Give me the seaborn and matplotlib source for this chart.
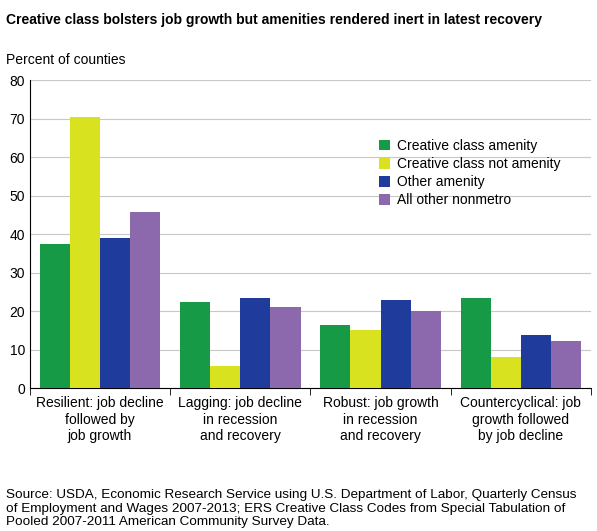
import numpy as np
import pandas as pd
import seaborn as sns
import matplotlib.pyplot as plt

categories = ['Resilient: job decline\nfollowed by\njob growth',
              'Lagging: job decline\nin recession\nand recovery',
              'Robust: job growth\nin recession\nand recovery',
              'Countercyclical: job\ngrowth followed\nby job decline']
series = ['Creative class amenity', 'Creative class not amenity', 'Other amenity', 'All other nonmetro']
creative_amenity = [37.5, 22.3, 16.4, 23.5]
creative_not_amenity = [70.5, 5.8, 15.2, 8.2]
other_amenity = [39.0, 23.5, 22.8, 13.7]
all_other = [45.7, 21.2, 20.0, 12.3]
colors = ['#179a46', '#d8e21e', '#1f3b9b', '#8c69ad']

rows = []
for s, vals in zip(series, [creative_amenity, creative_not_amenity, other_amenity, all_other]):
    for c, v in zip(categories, vals):
        rows.append({'category': c, 'series': s, 'value': v})
df = pd.DataFrame(rows)

sns.set_style({"axes.grid": True, "grid.color": "#c8c8c8", "axes.edgecolor": "black",
               "axes.spines.right": False, "axes.spines.top": False})
plt.rcParams['font.family'] = ['Liberation Sans', 'DejaVu Sans']

fig = plt.figure(figsize=(5.97, 5.31), dpi=100)
ax = fig.add_axes([0.05, 0.269, 0.94, 0.58])
sns.barplot(data=df, x='category', y='value', hue='series', palette=colors,
            width=0.86, saturation=1, ax=ax, zorder=3)
ax.set_ylim(0, 80)
ax.set_yticks(range(0, 81, 10))
ax.set_xlabel('')
ax.set_ylabel('')
ax.grid(axis='x', visible=False)
ax.tick_params(axis='both', labelsize=10, length=0)
ax.set_xticks(np.arange(-0.5, 4, 1), minor=True)
ax.tick_params(axis='x', which='major', length=0, pad=6)
ax.tick_params(axis='x', which='minor', length=5, direction='out')
ax.set_xlim(-0.5, 3.5)
ax.legend(loc='upper left', bbox_to_anchor=(0.6, 0.85), frameon=False, fontsize=10,
          handlelength=0.8, handleheight=0.8, handletextpad=0.5, labelspacing=0.3)

fig.text(0.01, 0.975, 'Creative class bolsters job growth but amenities rendered inert in latest recovery',
         fontsize=10, fontweight='bold', va='top')
fig.text(0.01, 0.9, 'Percent of counties', fontsize=10, va='top')
fig.text(0.01, 0.005, 'Source: USDA, Economic Research Service using U.S. Department of Labor, Quarterly Census\n'
         'of Employment and Wages 2007-2013; ERS Creative Class Codes from Special Tabulation of\n'
         'Pooled 2007-2011 American Community Survey Data.', fontsize=9.7, va='bottom', linespacing=1.2)
fig.savefig('out.png', dpi=100)
